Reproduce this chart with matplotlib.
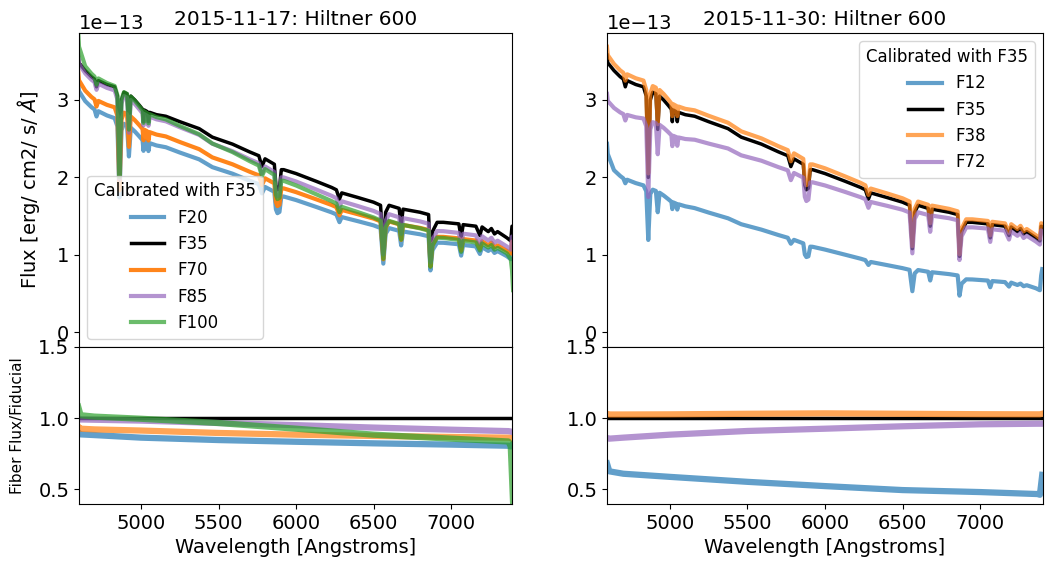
import matplotlib
matplotlib.use("Agg")
import matplotlib.pyplot as plt
import numpy as np

plt.rcParams['font.size'] = 14

#------ Fiducial (F35) spectrum of Hiltner 600, units of 1e-13 ----------------
wave = [4595, 4600, 4640, 4680, 4700, 4713, 4725, 4780, 4830, 4848, 4861, 4874,
        4890, 4910, 4922, 4934, 4960, 4990, 5010, 5016, 5022, 5040, 5048, 5056,
        5100, 5160, 5250, 5375, 5460, 5590, 5700, 5760, 5780, 5800, 5860, 5870,
        5880, 5893, 5905, 5920, 6000, 6130, 6230, 6260, 6280, 6295, 6400, 6500,
        6545, 6563, 6578, 6600, 6665, 6678, 6690, 6800, 6855, 6867, 6880, 6910,
        6950, 7050, 7065, 7078, 7160, 7186, 7200, 7240, 7260, 7280, 7300, 7330,
        7360, 7385, 7393, 7400]
fid_flux = [3.58, 3.48, 3.38, 3.30, 3.27, 3.17, 3.25, 3.20, 3.17, 3.05, 2.00, 3.00,
            3.10, 3.08, 2.62, 3.05, 3.00, 2.93, 2.88, 2.72, 2.87, 2.85, 2.72, 2.84,
            2.81, 2.79, 2.72, 2.63, 2.52, 2.43, 2.33, 2.28, 2.14, 2.24, 2.17, 1.90,
            1.84, 1.86, 2.10, 2.10, 2.05, 1.95, 1.87, 1.84, 1.72, 1.80, 1.74, 1.68,
            1.64, 1.08, 1.55, 1.64, 1.60, 1.37, 1.59, 1.55, 1.52, 0.98, 1.30, 1.42,
            1.42, 1.40, 1.22, 1.39, 1.37, 1.25, 1.36, 1.30, 1.34, 1.27, 1.30, 1.26,
            1.22, 1.18, 1.37, 1.36]

#------ Fiber flux / fiducial ratios ------------------------------------------
ratio_wave = [4595, 4610, 4700, 5000, 5500, 6000, 6500, 7000, 7370, 7385, 7400]
ones = [1.0] * len(ratio_wave)

# 2015-11-17
r_F20 = [0.90, 0.885, 0.88, 0.862, 0.845, 0.833, 0.822, 0.813, 0.805, 0.80, 0.82]
r_F70 = [0.94, 0.925, 0.92, 0.912, 0.895, 0.883, 0.874, 0.867, 0.862, 0.86, 0.85]
r_F85 = [1.00, 0.99, 0.988, 0.982, 0.965, 0.95, 0.933, 0.918, 0.908, 0.905, 0.90]
r_F100 = [1.08, 1.02, 1.01, 0.995, 0.965, 0.925, 0.883, 0.855, 0.835, 0.80, 0.40]

# 2015-11-30
r_F12 = [0.68, 0.625, 0.608, 0.586, 0.551, 0.521, 0.493, 0.479, 0.465, 0.46, 0.60]
r_F38 = [1.03, 1.025, 1.025, 1.026, 1.03, 1.033, 1.03, 1.027, 1.026, 1.026, 1.03]
r_F72 = [0.86, 0.855, 0.862, 0.883, 0.909, 0.925, 0.942, 0.956, 0.96, 0.96, 0.96]

left_fibers = [("F20", r_F20, "tab:blue", 0.7), ("F35", ones, "k", 1.0),
               ("F70", r_F70, "tab:orange", 0.95), ("F85", r_F85, "tab:purple", 0.7),
               ("F100", r_F100, "tab:green", 0.7)]
right_fibers = [("F12", r_F12, "tab:blue", 0.7), ("F35", ones, "k", 1.0),
                ("F38", r_F38, "tab:orange", 0.7), ("F72", r_F72, "tab:purple", 0.7)]

W, H = 1046, 571
fig = plt.figure(figsize=(W / 100, H / 100), dpi=100)


def box(x0, x1, y0, y1):
    return [x0 / W, (H - y1) / H, (x1 - x0) / W, (y1 - y0) / H]


def panel(x0, x1, xlim, fibers, title, legend_loc, ylabels):
    top = fig.add_axes(box(x0, x1, 33, 347))
    bot = fig.add_axes(box(x0, x1, 347, 504))
    wl = np.array(wave)
    for name, ratio, c, a in fibers:
        r = np.interp(wl, ratio_wave, ratio)
        lw = 2.5 if c == "k" else 3
        top.plot(wl, np.array(fid_flux) * r * 1e-13, c=c, alpha=a, lw=lw, label=name)
        bot.plot(ratio_wave, ratio, c=c, alpha=(1.0 if c == "k" else 0.7),
                 lw=(2.5 if c == "k" else 4.5))
    top.set_xlim(xlim)
    bot.set_xlim(xlim)
    top.set_ylim(-0.19e-13, 3.865e-13)
    bot.set_ylim(0.395, 1.5)
    top.set_yticks([0, 1e-13, 2e-13, 3e-13])
    bot.set_yticks([0.5, 1.0, 1.5])
    bot.set_xticks([5000, 5500, 6000, 6500, 7000])
    top.tick_params(axis="x", bottom=False, labelbottom=False)
    top.set_title(title, fontsize=14.5)
    bot.set_xlabel("Wavelength [Angstroms]")
    top.legend(loc=legend_loc, title="Calibrated with F35", fontsize=12,
               title_fontsize=12)
    if ylabels:
        top.set_ylabel(r"Flux [erg/ cm2/ s/ $\AA$]")
        top.yaxis.set_label_coords(-0.085, 0.5)
        bot.set_ylabel("Fiber Flux/Fiducial", fontsize=11)
        bot.yaxis.set_label_coords(-0.125, 0.5)
    return top, bot


panel(79, 512, (4600, 7393), left_fibers, "2015-11-17: Hiltner 600", "lower left", True)
panel(607, 1043, (4595, 7405), right_fibers, "2015-11-30: Hiltner 600", "upper right", False)

fig.savefig("out.png", dpi=100)
